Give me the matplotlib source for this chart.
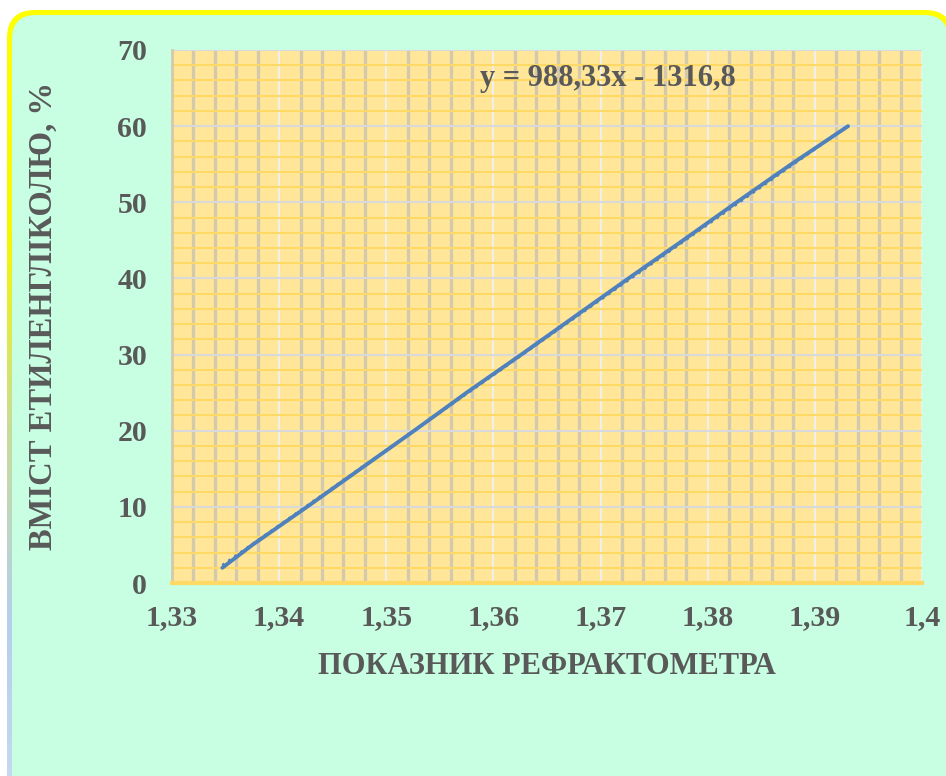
#!/usr/bin/env python3
import numpy as np
import matplotlib
matplotlib.use('Agg')
import matplotlib.pyplot as plt
from matplotlib.patches import FancyBboxPatch
from matplotlib.colors import LinearSegmentedColormap
from matplotlib.ticker import MultipleLocator, FuncFormatter

# Дані: показник рефрактометра -> вміст етиленгліколю
refr = [1.3347, 1.3375, 1.3426, 1.3476, 1.3526, 1.3575, 1.3626,
        1.3676, 1.3726, 1.3777, 1.3827, 1.3878, 1.3931]
glycol = [2, 5, 10, 15, 20, 25, 30, 35, 40, 45, 50, 55, 60]

# лінія тренду (з рівняння на графіку)
slope, intercept = 988.33, -1316.8
eq_text = 'y = 988,33x - 1316,8'

x_ticks = [1.33, 1.34, 1.35, 1.36, 1.37, 1.38, 1.39, 1.40]
y_ticks = [0, 10, 20, 30, 40, 50, 60, 70]

txt_col = '#595959'
plt.rcParams['font.family'] = ['Liberation Serif', 'DejaVu Serif']
plt.rcParams['font.weight'] = 'bold'

W, H = 946, 776
fig = plt.figure(figsize=(W / 100, H / 100), dpi=100)
fig.patch.set_facecolor('white')

# фон: рамка з градієнтом і м'ятна заливка
bg = fig.add_axes([0, 0, 1, 1])
bg.set_xlim(0, W)
bg.set_ylim(H, 0)
bg.axis('off')
outer = FancyBboxPatch((7, 10), 946, 800, boxstyle='round,pad=0,rounding_size=28',
                       facecolor='none', edgecolor='none', transform=bg.transData)
bg.add_patch(outer)
cmap = LinearSegmentedColormap.from_list('brd', [(0, '#ffff00'), (0.3, '#f6f800'),
                                                 (0.55, '#c8dc98'), (0.8, '#b4d0ec'),
                                                 (1, '#c4d8f0')])
grad = np.linspace(0, 1, 256).reshape(-1, 1)
im = bg.imshow(grad, cmap=cmap, aspect='auto', extent=[0, W, H, 0])
im.set_clip_path(outer)
inner = FancyBboxPatch((12, 15), 936, 800, boxstyle='round,pad=0,rounding_size=24',
                       facecolor='#c8fee2', edgecolor='none')
bg.add_patch(inner)

# область побудови
ax = fig.add_axes([172 / W, 1 - 583 / H, 750 / W, 533 / H])
ax.set_facecolor('#ffe699')
ax.set_xlim(1.33, 1.40)
ax.set_ylim(0, 70)
ax.set_xticks(x_ticks)
ax.set_yticks(y_ticks)
ax.xaxis.set_minor_locator(MultipleLocator(0.002))
ax.yaxis.set_minor_locator(MultipleLocator(2))
ax.xaxis.set_major_formatter(FuncFormatter(lambda v, p: f'{v:.2f}'.rstrip('0').replace('.', ',')))

ax.grid(which='minor', axis='x', color='#d3c9ad', linewidth=2.4, zorder=0)
ax.grid(which='minor', axis='y', color='#ffd966', linewidth=1.5, zorder=0)
ax.grid(which='major', axis='x', color='#eef2f6', linewidth=1.3, zorder=0)
ax.grid(which='major', axis='y', color='#d9d9d9', linewidth=1.5, zorder=0)
ax.set_axisbelow(True)

for s in ['top', 'right']:
    ax.spines[s].set_visible(False)
ax.spines['left'].set_color('#d3c9ad')
ax.spines['left'].set_linewidth(2)
ax.spines['bottom'].set_color('#ffd966')
ax.spines['bottom'].set_linewidth(3)

ax.tick_params(which='both', length=0)
ax.tick_params(axis='x', pad=15, labelsize=21.5, labelcolor=txt_col)
ax.tick_params(axis='y', pad=18, labelsize=21.5, labelcolor=txt_col)

# дані та тренд
ax.plot(refr, glycol, color='#4f81bd', linewidth=2.8, solid_capstyle='round', zorder=3)
xt = np.array([min(refr), max(refr)])
ax.plot(xt, slope * xt + intercept, color='#4f81bd', linewidth=2, linestyle=':', zorder=2)

ax.text(0.581, 0.947, eq_text, transform=ax.transAxes, ha='center', va='center',
        fontsize=22, color=txt_col, fontweight='bold')

ax.set_xlabel('ПОКАЗНИК РЕФРАКТОМЕТРА', fontsize=22, color=txt_col,
              fontweight='bold', labelpad=15)
ax.set_ylabel('ВМІСТ ЕТИЛЕНГЛІКОЛЮ, %', fontsize=23.5, color=txt_col,
              fontweight='bold', labelpad=42)

out = 'out.png'
fig.savefig(out, dpi=100)
print(f"Saved plot to {out}")
